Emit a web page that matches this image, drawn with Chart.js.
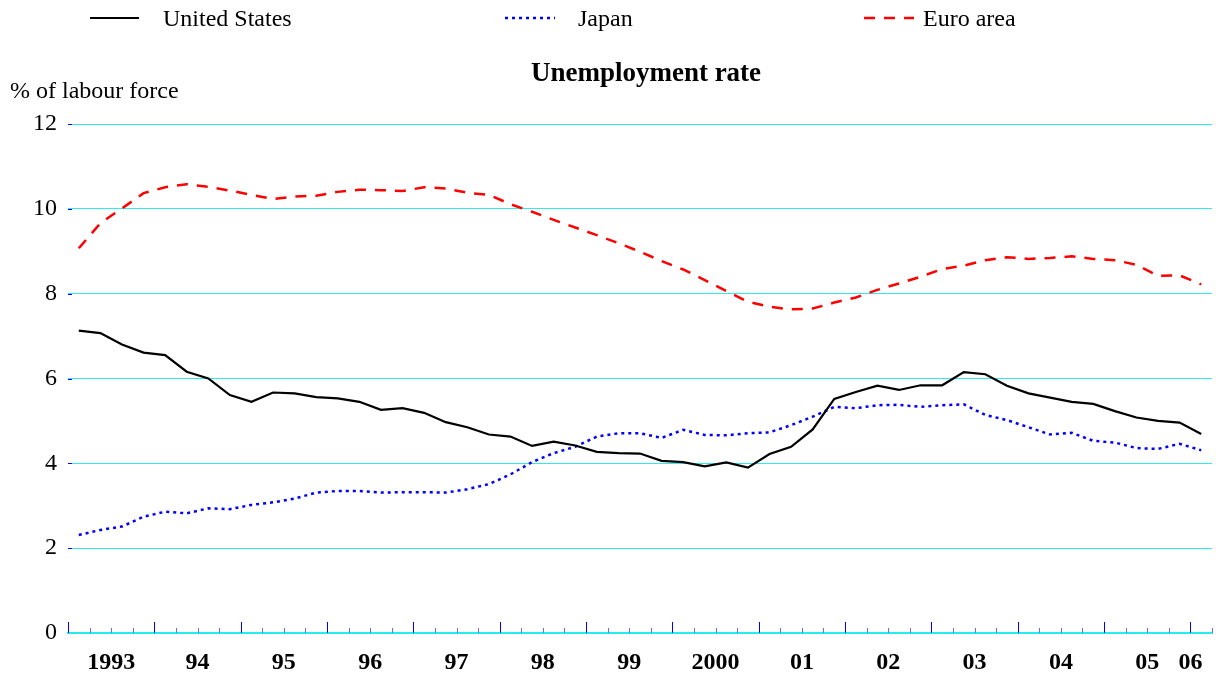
<!DOCTYPE html>
<html lang="en">
<head>
  <meta charset="UTF-8">
  <title>Unemployment rate</title>
  <script src="https://cdn.jsdelivr.net/npm/chart.js@4.4.1/dist/chart.umd.min.js"></script>
  <style>
    html, body { margin: 0; padding: 0; background: #fff; }
    canvas { display: block; }
  </style>
</head>
<body>
  <canvas id="unempChart" width="1216" height="678"></canvas>
  <script>
    // Years on the axis and their printed labels
    const years = [1993, 1994, 1995, 1996, 1997, 1998, 1999, 2000, 2001, 2002, 2003, 2004, 2005, 2006];
    const yearLabels = ['1993', '94', '95', '96', '97', '98', '99', '2000', '01', '02', '03', '04', '05', '06'];
    const quartersShown = 53; // 1993Q1 .. 2006Q1

    // Quarterly unemployment rates, % of labour force
    const unitedStates = [
      7.13, 7.07, 6.80, 6.61, 6.55, 6.16, 6.00, 5.61, 5.45, 5.67, 5.65, 5.56, 5.53, 5.45,
      5.26, 5.30, 5.19, 4.97, 4.85, 4.68, 4.63, 4.41, 4.51, 4.42, 4.27, 4.24, 4.23, 4.06,
      4.03, 3.93, 4.02, 3.90, 4.22, 4.39, 4.80, 5.52, 5.68, 5.83, 5.73, 5.84, 5.84, 6.15,
      6.10, 5.83, 5.65, 5.55, 5.45, 5.40, 5.23, 5.08, 5.00, 4.96, 4.69
    ];
    const japan = [
      2.31, 2.43, 2.51, 2.74, 2.86, 2.82, 2.94, 2.92, 3.02, 3.08, 3.17, 3.31, 3.35, 3.35,
      3.31, 3.32, 3.32, 3.31, 3.39, 3.51, 3.74, 4.03, 4.24, 4.39, 4.63, 4.71, 4.71, 4.60,
      4.79, 4.67, 4.66, 4.71, 4.73, 4.90, 5.10, 5.33, 5.30, 5.37, 5.38, 5.33, 5.37, 5.39,
      5.14, 5.02, 4.85, 4.68, 4.72, 4.53, 4.49, 4.36, 4.34, 4.46, 4.31
    ];
    const euroArea = [
      9.07, 9.66, 10.01, 10.37, 10.51, 10.58, 10.52, 10.43, 10.33, 10.23, 10.29, 10.31, 10.40, 10.45,
      10.44, 10.42, 10.51, 10.48, 10.38, 10.33, 10.11, 9.93, 9.74, 9.56, 9.38, 9.19, 8.99, 8.77,
      8.57, 8.32, 8.06, 7.81, 7.69, 7.63, 7.65, 7.79, 7.91, 8.09, 8.24, 8.40, 8.58, 8.66,
      8.79, 8.86, 8.82, 8.84, 8.88, 8.82, 8.79, 8.68, 8.42, 8.43, 8.22
    ];

    // quarter categories: "1993Q1", "1993Q2", ...
    const quarters = [];
    years.forEach(y => {
      for (let q = 1; q <= 4; q++) quarters.push(y + 'Q' + q);
    });
    quarters.length = quartersShown;

    const serif = "'Liberation Serif', 'Times New Roman', serif";

    // legend, title, unit label and the little blue axis ticks
    const decorPlugin = {
      id: 'decor',
      afterDraw(chart) {
        const ctx = chart.ctx;
        const x = chart.scales.x;
        const y = chart.scales.y;
        const area = chart.chartArea;
        ctx.save();

        // quarter / year tick marks rising from the x axis
        for (let i = 0; i <= quarters.length; i++) {
          const px = Math.round(x.getPixelForValue(i - 0.5)) + 0.5;
          const major = i % 4 === 0;
          ctx.strokeStyle = major ? '#0000ff' : '#6a6aff';
          ctx.lineWidth = 1;
          ctx.beginPath();
          ctx.moveTo(px, area.bottom);
          ctx.lineTo(px, area.bottom - (major ? 11 : 5));
          ctx.stroke();
        }
        // small dashes at the left of each gridline
        y.ticks.forEach(t => {
          if (t.value === 0) return;
          const py = Math.round(y.getPixelForValue(t.value)) + 0.5;
          ctx.strokeStyle = '#0000ff';
          ctx.beginPath();
          ctx.moveTo(area.left, py);
          ctx.lineTo(area.left + 4, py);
          ctx.stroke();
        });

        // legend
        const items = [
          { ds: chart.data.datasets[0], x1: 90, x2: 139, tx: 163 },
          { ds: chart.data.datasets[1], x1: 505, x2: 555, tx: 578 },
          { ds: chart.data.datasets[2], x1: 864, x2: 914, tx: 923 }
        ];
        ctx.font = '24px ' + serif;
        ctx.textBaseline = 'alphabetic';
        ctx.textAlign = 'left';
        items.forEach(it => {
          ctx.strokeStyle = it.ds.borderColor;
          ctx.lineWidth = it.ds.borderWidth;
          ctx.setLineDash(it.ds.borderDash || []);
          ctx.beginPath();
          ctx.moveTo(it.x1, 18);
          ctx.lineTo(it.x2, 18);
          ctx.stroke();
          ctx.setLineDash([]);
          ctx.fillStyle = '#000';
          ctx.fillText(it.ds.label, it.tx, 26);
        });

        // unit label
        ctx.fillText('% of labour force', 10, 98);

        // title
        ctx.font = 'bold 27px ' + serif;
        ctx.textAlign = 'center';
        ctx.fillText('Unemployment rate', 646, 81);

        ctx.restore();
      }
    };

    new Chart(document.getElementById('unempChart'), {
      type: 'line',
      data: {
        labels: quarters,
        datasets: [
          {
            label: 'United States',
            data: unitedStates,
            borderColor: '#000000',
            borderWidth: 2.2,
            pointRadius: 0,
            tension: 0
          },
          {
            label: 'Japan',
            data: japan,
            borderColor: '#0000ff',
            borderWidth: 2.5,
            borderDash: [3, 4],
            pointRadius: 0,
            tension: 0
          },
          {
            label: 'Euro area',
            data: euroArea,
            borderColor: '#ff0000',
            borderWidth: 2.5,
            borderDash: [11, 9],
            pointRadius: 0,
            tension: 0
          }
        ]
      },
      options: {
        responsive: false,
        animation: false,
        layout: { padding: { top: 124, right: 4, left: 0, bottom: 0 } },
        plugins: {
          legend: { display: false },
          title: { display: false },
          tooltip: { enabled: false }
        },
        scales: {
          x: {
            type: 'category',
            offset: true,
            grid: { display: false, drawTicks: false },
            border: { display: true, color: '#22eeee', width: 2 },
            ticks: {
              autoSkip: false,
              maxRotation: 0,
              minRotation: 0,
              padding: 15,
              labelOffset: -10.8,
              color: '#000',
              font: { family: serif, size: 24, weight: 'bold' },
              callback: function (value, index) {
                const q = index % 4;
                const yi = Math.floor(index / 4);
                if (q === 2 || (index === quarters.length - 1 && q === 0)) return yearLabels[yi];
                return '';
              }
            },
            afterFit(scale) {
              scale.height = 45;
              scale.paddingLeft = 0;
              scale.paddingRight = 0;
            }
          },
          y: {
            min: 0,
            max: 12,
            grid: { color: '#33eaea', lineWidth: 1, drawTicks: false },
            border: { display: false },
            ticks: {
              stepSize: 2,
              padding: 11,
              color: '#000',
              font: { family: serif, size: 24 }
            },
            afterFit(scale) { scale.width = 68; }
          }
        }
      },
      plugins: [decorPlugin]
    });
  </script>
</body>
</html>
